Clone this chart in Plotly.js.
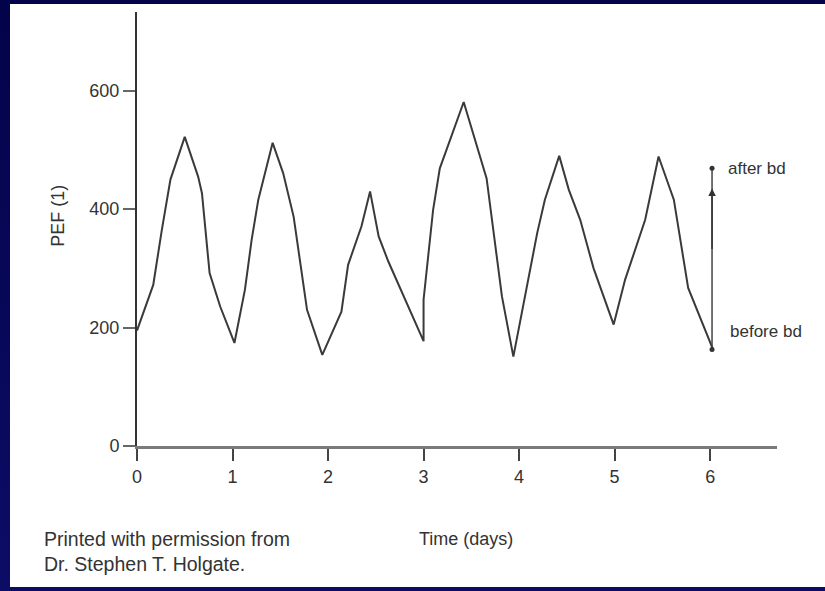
<!DOCTYPE html>
<html>
<head>
<meta charset="utf-8">
<script src="https://cdn.plot.ly/plotly-3.0.1.min.js"></script>
<style>
  html, body { margin: 0; padding: 0; width: 825px; height: 591px; overflow: hidden;
    background: linear-gradient(180deg, #03034a 0%, #0c0c66 100%); }
  #panel { position: absolute; left: 10px; top: 4px; width: 815px; height: 583px; background: #ffffff; }
  #chart { position: absolute; left: 0; top: 0; width: 825px; height: 591px; }
</style>
</head>
<body>
<div id="panel"></div>
<div id="chart"></div>
<script>
// PEF readings over six days
const days = [0, 0.17, 0.26, 0.35, 0.50, 0.64, 0.68, 0.76, 0.87, 1.02, 1.13, 1.20, 1.27, 1.42, 1.53, 1.64, 1.78, 1.94,
              2.14, 2.21, 2.35, 2.44, 2.53, 2.63, 3.00, 3.00, 3.10, 3.17, 3.24, 3.42, 3.66, 3.82, 3.94,
              4.19, 4.27, 4.42, 4.52, 4.64, 4.78, 4.99, 5.11, 5.32, 5.46, 5.62, 5.77, 6.03];
const pef = [195, 272, 365, 450, 522, 455, 427, 292, 236, 174, 264, 348, 416, 512, 461, 387, 230, 154,
             227, 306, 371, 430, 354, 312, 177, 247, 399, 469, 500, 581, 452, 253, 151,
             360, 416, 490, 433, 382, 300, 205, 281, 382, 489, 416, 267, 163];

// bronchodilator response marker
const bdDay = [6.02, 6.02];
const bdPef = [163, 469];
const bdLabels = ["before bd", "after bd"];

const xTicks = [0, 1, 2, 3, 4, 5, 6];
const yTicks = [0, 200, 400, 600];

const font = "Liberation Sans, Arial, Helvetica, sans-serif";
const textColor = "#333333";

const traces = [
  {
    x: days, y: pef, type: "scatter", mode: "lines",
    line: { color: "#3a3a3a", width: 2 }, hoverinfo: "skip", showlegend: false
  },
  {
    x: bdDay, y: bdPef, type: "scatter", mode: "lines+markers",
    line: { color: "#444444", width: 1.5 },
    marker: { color: "#333333", size: 5 }, hoverinfo: "skip", showlegend: false
  }
];

const layout = {
  width: 825, height: 591,
  margin: { l: 137, r: 48, t: 12, b: 144.5, pad: 0 },
  paper_bgcolor: "rgba(0,0,0,0)",
  plot_bgcolor: "rgba(0,0,0,0)",
  showlegend: false,
  font: { family: font, color: textColor, size: 17 },
  xaxis: {
    range: [0, 6.70], tickvals: xTicks, ticktext: xTicks.map(String),
    showgrid: false, zeroline: false,
    showline: true, linecolor: "#7a7a7a", linewidth: 3,
    ticks: "outside", ticklen: 12, tickwidth: 2, tickcolor: "#444444",
    tickfont: { family: font, size: 18, color: textColor },
    fixedrange: true
  },
  yaxis: {
    range: [0, 733], tickvals: yTicks, ticktext: yTicks.map(String),
    showgrid: false, zeroline: false,
    showline: true, linecolor: "#333333", linewidth: 2,
    ticks: "outside", ticklen: 12, tickwidth: 2, tickcolor: "#666666",
    tickfont: { family: font, size: 18, color: textColor },
    fixedrange: true
  },
  annotations: [
    { x: bdDay[0], y: 435, ax: bdDay[0], ay: 330, xref: "x", yref: "y", axref: "x", ayref: "y",
      text: "", showarrow: true, arrowhead: 2, arrowsize: 1, arrowwidth: 1.5, arrowcolor: "#333333" },
    { x: 6.17, y: bdPef[1], xref: "x", yref: "y", text: bdLabels[1], showarrow: false,
      xanchor: "left", yanchor: "middle", font: { family: font, size: 17, color: textColor } },
    { x: 6.19, y: bdPef[0] + 30, xref: "x", yref: "y", text: bdLabels[0], showarrow: false,
      xanchor: "left", yanchor: "middle", font: { family: font, size: 17, color: textColor } },
    { x: (58 - 137) / 640, y: (446.5 - 216) / 434.5, xref: "paper", yref: "paper",
      text: "PEF (1)", textangle: -90, showarrow: false, xanchor: "center", yanchor: "middle",
      font: { family: font, size: 18, color: textColor } },
    { x: (466 - 137) / 640, y: (446.5 - 540) / 434.5, xref: "paper", yref: "paper",
      text: "Time (days)", showarrow: false, xanchor: "center", yanchor: "middle",
      font: { family: font, size: 18, color: textColor } },
    { x: (42 - 137) / 640, y: (446.5 - 527) / 434.5, xref: "paper", yref: "paper",
      text: "Printed with permission from<br>Dr. Stephen T. Holgate.", showarrow: false,
      xanchor: "left", yanchor: "top", align: "left",
      font: { family: font, size: 19.5, color: textColor } }
  ]
};

Plotly.newPlot("chart", traces, layout, { displayModeBar: false, staticPlot: true });
</script>
</body>
</html>
